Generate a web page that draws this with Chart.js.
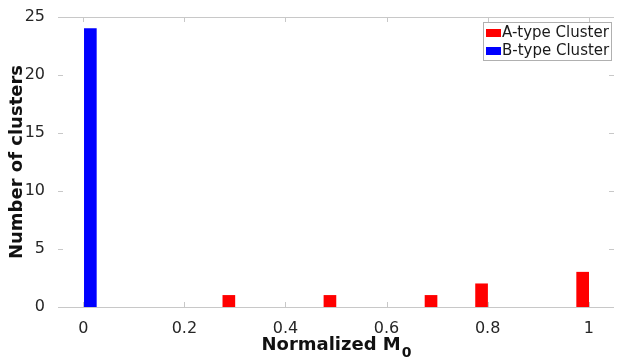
<!DOCTYPE html>
<html lang="en">
<head>
<meta charset="UTF-8">
<title>Normalized M0 histogram</title>
<script src="https://cdn.jsdelivr.net/npm/chart.js"></script>
<style>
  body { margin: 0; background: #fff; }
  #wrap { width: 618px; height: 360px; }
</style>
</head>
<body>
<div id="wrap"><canvas id="histChart"></canvas></div>
<script>
// bin centres and counts
const aCenters = [0.288, 0.488, 0.688, 0.788, 0.988];
const aCounts = [1, 1, 1, 2, 3];
const bCenters = [0.014];
const bCounts = [24];
const xTicks = [0, 0.2, 0.4, 0.6, 0.8, 1];
const yTicks = [0, 5, 10, 15, 20, 25];
const xTitle = 'Normalized M';
const xTitleSub = '0';

const axisGray = '#c8c8c8';

// matlab style: inward ticks on all four sides, thin frame top and bottom
const boxTicks = {
    id: 'boxTicks',
    beforeDatasetsDraw(chart) {
        const { ctx, chartArea: a, scales: { x, y } } = chart;
        ctx.save();
        ctx.strokeStyle = axisGray;
        ctx.lineWidth = 1;
        ctx.beginPath();
        ctx.moveTo(a.left, a.top + 0.5); ctx.lineTo(a.right, a.top + 0.5);
        ctx.moveTo(a.left, a.bottom + 0.5); ctx.lineTo(a.right, a.bottom + 0.5);
        x.ticks.forEach(t => {
            const px = Math.round(x.getPixelForValue(t.value)) + 0.5;
            ctx.moveTo(px, a.bottom); ctx.lineTo(px, a.bottom - 5);
            ctx.moveTo(px, a.top); ctx.lineTo(px, a.top + 5);
        });
        y.ticks.forEach(t => {
            const py = Math.round(y.getPixelForValue(t.value)) + 0.5;
            ctx.moveTo(a.left, py); ctx.lineTo(a.left + 5, py);
            ctx.moveTo(a.right, py); ctx.lineTo(a.right - 5, py);
        });
        ctx.stroke();
        ctx.restore();
    },
    afterDraw(chart) {
        const { ctx, chartArea: a } = chart;
        ctx.save();

        // x label with a real subscript
        ctx.fillStyle = '#111';
        ctx.textBaseline = 'alphabetic';
        ctx.font = 'bold 18px "DejaVu Sans"';
        const mainW = ctx.measureText(xTitle).width;
        ctx.font = 'bold 14px "DejaVu Sans"';
        const subW = ctx.measureText(xTitleSub).width;
        const tx = (a.left + a.right) / 2 - (mainW + subW) / 2;
        ctx.font = 'bold 18px "DejaVu Sans"';
        ctx.fillText(xTitle, tx, 350);
        ctx.font = 'bold 14px "DejaVu Sans"';
        ctx.fillText(xTitleSub, tx + mainW + 1, 357);

        // legend box in the upper right corner of the axes
        const sets = chart.data.datasets;
        const w = 128, h = 38;
        const lx = a.right - w - 3, ly = a.top + 5;
        ctx.fillStyle = '#fff';
        ctx.fillRect(lx, ly, w, h);
        ctx.strokeStyle = '#b0b0b0';
        ctx.strokeRect(lx + 0.5, ly + 0.5, w, h);
        ctx.font = '15px "DejaVu Sans"';
        ctx.textBaseline = 'middle';
        sets.forEach((ds, i) => {
            const cy = ly + 11 + i * 18;
            ctx.fillStyle = ds.backgroundColor;
            ctx.fillRect(lx + 3, cy - 4, 15, 8);
            ctx.fillStyle = '#1a1a1a';
            ctx.fillText(ds.label, lx + 19, cy);
        });
        ctx.restore();
    }
};

new Chart(document.getElementById('histChart'), {
    type: 'bar',
    data: {
        datasets: [
            {
                label: 'A-type Cluster',
                data: aCenters.map((c, i) => ({ x: c, y: aCounts[i] })),
                backgroundColor: '#ff0000',
                barThickness: 12
            },
            {
                label: 'B-type Cluster',
                data: bCenters.map((c, i) => ({ x: c, y: bCounts[i] })),
                backgroundColor: '#0000ff',
                barThickness: 12
            }
        ]
    },
    options: {
        responsive: true,
        maintainAspectRatio: false,
        animation: false,
        grouped: false,
        layout: { padding: { top: 17, right: 4, left: 0, bottom: 0 } },
        scales: {
            x: {
                type: 'linear',
                min: -0.05,
                max: 1.05,
                offset: false,
                afterBuildTicks: s => { s.ticks = xTicks.map(v => ({ value: v })); },
                afterFit: s => { s.height = 53; },
                grid: { display: false },
                border: { display: false },
                ticks: {
                    padding: 4,
                    color: '#262626',
                    font: { family: 'DejaVu Sans', size: 16 },
                    callback: v => String(v)
                }
            },
            y: {
                min: 0,
                max: 25,
                afterBuildTicks: s => { s.ticks = yTicks.map(v => ({ value: v })); },
                afterFit: s => { s.width = 58; },
                grid: { display: false },
                border: { display: false },
                ticks: {
                    padding: 5,
                    color: '#262626',
                    font: { family: 'DejaVu Sans', size: 16 }
                },
                title: {
                    display: true,
                    text: 'Number of clusters',
                    color: '#111',
                    font: { family: 'DejaVu Sans', size: 18, weight: 'bold' },
                    padding: { top: 7, bottom: 0 }
                }
            }
        },
        plugins: {
            legend: { display: false },
            tooltip: { enabled: false }
        }
    },
    plugins: [boxTicks]
});
</script>
</body>
</html>
